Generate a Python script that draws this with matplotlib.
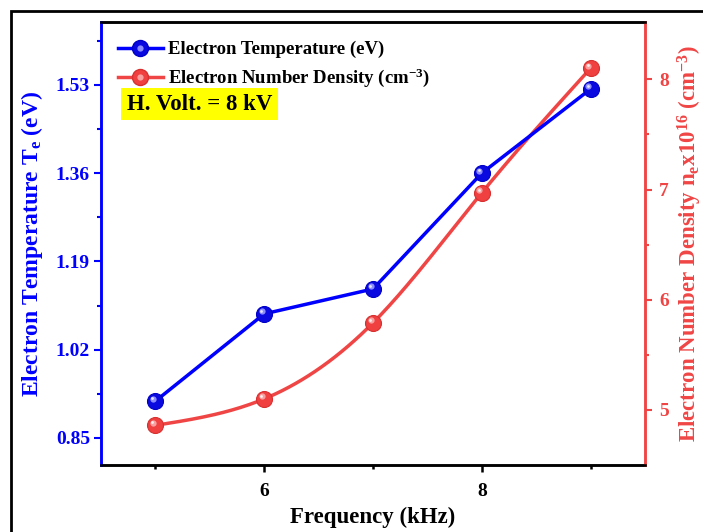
import numpy as np
import matplotlib
matplotlib.use("Agg")
import matplotlib.pyplot as plt
from matplotlib.lines import Line2D
from matplotlib.legend_handler import HandlerTuple
from matplotlib.patches import Rectangle
import matplotlib.transforms as mtransforms

freq = [5, 6, 7, 8, 9]
te = [0.921, 1.089, 1.137, 1.36, 1.522]
ne = [4.86, 5.10, 5.79, 6.97, 8.10]
left_ticks = [0.85, 1.02, 1.19, 1.36, 1.53]
right_ticks = [5, 6, 7, 8]
x_ticks = [6, 8]

BLUE = "#0000ff"
RED = "#f04545"

plt.rcParams["font.family"] = ["Liberation Serif", "DejaVu Serif"]
plt.rcParams["font.weight"] = "bold"
plt.rcParams["mathtext.fontset"] = "custom"
plt.rcParams["mathtext.rm"] = "Liberation Serif:bold"
plt.rcParams["mathtext.bf"] = "Liberation Serif:bold"
plt.rcParams["mathtext.it"] = "Liberation Serif:bold"

fig = plt.figure(figsize=(7.03, 5.32), dpi=100)
ax = fig.add_axes([101/703, 1-465/532, (645-101)/703, (465-22)/532])
ax2 = ax.twinx()

def natural_spline(x, y, n=200):
    x = np.asarray(x, float); y = np.asarray(y, float)
    N = len(x); h = np.diff(x)
    A = np.zeros((N, N)); b = np.zeros(N)
    A[0, 0] = 1; A[-1, -1] = 1
    for i in range(1, N-1):
        A[i, i-1] = h[i-1]; A[i, i] = 2*(h[i-1]+h[i]); A[i, i+1] = h[i]
        b[i] = 3*((y[i+1]-y[i])/h[i] - (y[i]-y[i-1])/h[i-1])
    c = np.linalg.solve(A, b)
    xs = np.linspace(x[0], x[-1], n); ys = np.zeros_like(xs)
    for k, xv in enumerate(xs):
        i = min(np.searchsorted(x, xv, side="right")-1, N-2)
        dx = xv - x[i]
        bb = (y[i+1]-y[i])/h[i] - h[i]*(2*c[i]+c[i+1])/3
        d = (c[i+1]-c[i])/(3*h[i])
        ys[k] = y[i] + bb*dx + c[i]*dx**2 + d*dx**3
    return xs, ys

# blue series
ax.plot(freq, te, color=BLUE, lw=2.5, zorder=2)
ax.plot(freq, te, "o", color="#0a0ae0", ms=11.5, mec="#0000c8", mew=0.8, zorder=3)
off = mtransforms.offset_copy(ax.transData, fig=fig, x=-1.8, y=1.8, units="points")
ax.plot(freq, te, "o", color="#8c8cff", ms=4.5, mew=0, transform=off, zorder=4)
off2 = mtransforms.offset_copy(ax.transData, fig=fig, x=-2.2, y=2.2, units="points")
ax.plot(freq, te, "o", color="#e6e6ff", ms=2, mew=0, transform=off2, zorder=5)

# red series
xs, ys = natural_spline(freq, ne)
ax2.plot(xs, ys, color=RED, lw=2.5, zorder=2)
ax2.plot(freq, ne, "o", color="#f04040", ms=11.5, mec="#d83030", mew=0.8, zorder=3)
offr = mtransforms.offset_copy(ax2.transData, fig=fig, x=-1.8, y=1.8, units="points")
ax2.plot(freq, ne, "o", color="#f8a0a0", ms=4.5, mew=0, transform=offr, zorder=4)
offr2 = mtransforms.offset_copy(ax2.transData, fig=fig, x=-2.2, y=2.2, units="points")
ax2.plot(freq, ne, "o", color="#fff0f0", ms=2, mew=0, transform=offr2, zorder=5)

ax.set_xlim(4.5, 9.5)
ax.set_ylim(0.798, 1.651)
ax2.set_ylim(4.5, 8.52)

ax.set_xticks(x_ticks)
ax.set_xticks([5, 7, 9], minor=True)
ax.set_yticks(left_ticks)
ax.set_yticks([0.935, 1.105, 1.275, 1.445, 1.615], minor=True)
ax.set_yticklabels([f"{v:.2f}" for v in left_ticks])
ax2.set_yticks(right_ticks)
ax2.set_yticks([5.5, 6.5, 7.5], minor=True)

for a in (ax, ax2):
    for s in a.spines.values():
        s.set_linewidth(1.8)
    a.spines["top"].set_color("black")
    a.spines["bottom"].set_color("black")
ax.spines["left"].set_color(BLUE)
ax2.spines["left"].set_color(BLUE)
ax.spines["right"].set_color(RED)
ax2.spines["right"].set_color(RED)

ax.tick_params(axis="x", which="major", length=5, width=1.8, colors="black", labelsize=14, pad=8)
ax.tick_params(axis="x", which="minor", length=3, width=1.8, colors="black")
ax.tick_params(axis="y", which="major", length=5, width=1.5, colors=BLUE, labelsize=14, pad=3)
ax.tick_params(axis="y", which="minor", length=3, width=1.5, colors=BLUE)
ax2.tick_params(axis="y", which="major", length=5, width=1.5, colors=RED, labelsize=14, pad=5)
ax2.tick_params(axis="y", which="minor", length=3, width=1.5, colors=RED)
for lab in ax.get_xticklabels() + ax.get_yticklabels() + ax2.get_yticklabels():
    lab.set_fontweight("bold")

ax.set_xlabel("Frequency (kHz)", fontsize=16.5, fontweight="bold", labelpad=5)
ax.set_ylabel(r"Electron Temperature T$_\mathrm{e}$ (eV)", fontsize=17, fontweight="bold", color=BLUE, labelpad=8)
ax2.set_ylabel(r"Electron Number Density n$_\mathrm{e}$x10$^{16}$ (cm$^{-3}$)", fontsize=16.5,
               fontweight="bold", color=RED, labelpad=5)

# legend
hb = (Line2D([], [], color=BLUE, lw=2.5, marker="o", ms=11.5, mfc="#0a0ae0", mec="#0000c8"),
      Line2D([], [], ls="none", marker="o", ms=4.5, mfc="#8c8cff", mec="none"))
hr = (Line2D([], [], color=RED, lw=2.5, marker="o", ms=11.5, mfc="#f04040", mec="#d83030"),
      Line2D([], [], ls="none", marker="o", ms=4.5, mfc="#f8a0a0", mec="none"))
leg = ax.legend([hb, hr], ["Electron Temperature (eV)", r"Electron Number Density (cm$^{-3}$)"],
                handler_map={tuple: HandlerTuple(ndivide=1, pad=0)},
                loc="upper left", bbox_to_anchor=(0.0, 0.995), frameon=False,
                prop={"size": 13.5, "weight": "bold"}, handlelength=2.4, handletextpad=0.25,
                borderaxespad=0.5, labelspacing=0.45)

ax.text(26/544, (465-104)/443, "H. Volt. = 8 kV", transform=ax.transAxes, fontsize=16.5, fontweight="bold",
        va="center", ha="left", bbox=dict(facecolor="#ffff00", edgecolor="none", pad=4), zorder=10)

ax.set_zorder(ax2.get_zorder() + 1)
ax.patch.set_visible(False)

fig.patches.append(Rectangle((11/703, -0.1), 1.2, 1.1 - 11/532, transform=fig.transFigure,
                             fill=False, edgecolor="black", lw=2, zorder=20))

fig.savefig("out.png", dpi=100)
